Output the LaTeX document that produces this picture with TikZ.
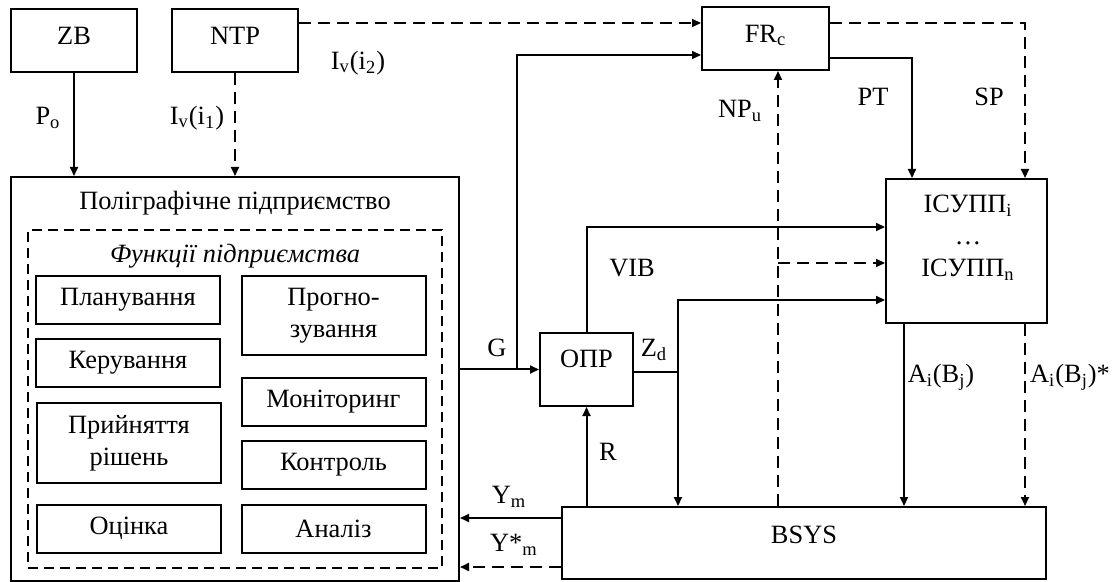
\documentclass[tikz,border=0pt]{standalone}
\usepackage{fontspec}
\setmainfont{Liberation Serif}
\usetikzlibrary{arrows.meta}

\tikzset{
  blk/.style={draw, line width=1pt, inner sep=0pt, align=center},
  fbox/.style={blk, minimum width=92pt, minimum height=24pt},
  lift/.style={text height=9pt, text depth=#1},
  arr/.style={line width=1pt, -{Triangle[length=4.5pt,width=4pt]}},
  darr/.style={arr, dash pattern=on 6pt off 3.5pt},
}

\begin{document}
\begin{tikzpicture}[x=0.5pt,y=-0.5pt,font=\fontsize{13.2}{16}\selectfont]
\useasboundingbox (0,0) rectangle (1113,582);

% sources
\node[blk, lift=5.2pt, minimum width=63pt, minimum height=31.5pt] (ZB) at (74,40.5) {ZB};
\node[blk, lift=5.2pt, minimum width=63pt, minimum height=31.5pt] (NTP) at (235,40.5) {NTP};
\node[blk, lift=5.2pt, minimum width=63.5pt, minimum height=31.5pt] (FRc) at (765.5,38.5) {FR\textsubscript{c}};

% enterprise
\node[blk, minimum width=224pt, minimum height=202pt] (main) at (235,379) {};
\node (title) at (235,203) {Поліграфічне підприємство};
\node[draw, line width=0.75pt, dash pattern=on 5pt off 3pt, minimum width=207pt, minimum height=169pt] (func) at (235,399) {};
\node (ftitle) at (235,256) {\itshape Функції підприємства};

\node[fbox] (plan) at (128,300) {Планування};
\node[fbox] (ker) at (128,363) {Керування};
\node[fbox, minimum height=40pt] (rish) at (129,443) {Прийняття\\рішень};
\node[fbox] (ots) at (129,528.5) {Оцінка};
\node[fbox, minimum height=39.5pt] (prog) at (333.5,315.5) {Прогно-\\зування};
\node[fbox] (mon) at (333.5,402) {Моніторинг};
\node[fbox] (kon) at (333.5,465) {Контроль};
\node[fbox] (an) at (333.5,529) {Аналіз};

% decision maker, systems
\node[blk, lift=11.2pt, minimum width=46.5pt, minimum height=36.5pt] (OPR) at (586.5,369.5) {ОПР};
\node[blk, minimum width=80.5pt, minimum height=72pt] (ICU) at (966.5,251) {};
\node[align=center] (icutxt) at (968,238) {ІСУПП\textsubscript{i}\\…\\ІСУПП\textsubscript{n}};
\node[blk, lift=8.2pt, minimum width=242pt, minimum height=36pt] (BSYS) at (804,543) {BSYS};

% links
\draw[arr] (ZB.south) -- (ZB.south |- main.north);
\draw[darr] (NTP.south) -- (NTP.south |- main.north);
\draw[darr] (NTP.east |- 0,23) -- (FRc.west |- 0,23);
\draw[arr] (main.east |- OPR.west) -- (OPR.west);
\draw[arr] (517,0 |- OPR.west) |- (FRc.west |- 0,55);
\draw[arr] (OPR.north) |- (ICU.west |- 0,227);
\draw[arr] (OPR.east |- 0,372) -| (BSYS.north -| 678,0);
\draw[arr] (678,372) |- (ICU.west |- 0,300);
\draw[arr] (BSYS.north -| OPR.south) -- (OPR.south);
\draw[darr] (BSYS.north -| 778,0) -- (FRc.south -| 778,0);
\draw[darr] (778,263) -- (ICU.west |- 0,263);
\draw[arr] (BSYS.west |- 0,518) -- (main.east |- 0,518);
\draw[darr] (BSYS.west |- 0,567) -- (main.east |- 0,567);
\draw[arr] (FRc.east |- 0,58) -| (ICU.north -| 912,0);
\draw[darr] (FRc.east |- 0,23) -| (ICU.north -| 1025,0);
\draw[arr] (ICU.south -| 904,0) -- (BSYS.north -| 904,0);
\draw[darr] (ICU.south -| 1025,0) -- (BSYS.north -| 1025,0);

% labels
\node (Po) at (48,118) {P\textsubscript{o}};
\node (Iv1) at (197,118) {I\textsubscript{v}(i\textsubscript{1})};
\node (Iv2) at (358,63) {I\textsubscript{v}(i\textsubscript{2})};
\node (NPu) at (740,111) {NP\textsubscript{u}};
\node (PT) at (873,97) {PT};
\node (SP) at (989,97) {SP};
\node (VIB) at (632,268) {VIB};
\node (G) at (497,348) {G};
\node (Zd) at (654,350) {Z\textsubscript{d}};
\node (R) at (608,452) {R};
\node (Ym) at (509,497) {Y\textsubscript{m}};
\node (Ysm) at (514,545) {Y*\textsubscript{m}};
\node (Ai) at (941,377) {A\textsubscript{i}(B\textsubscript{j})};
\node (Ais) at (1070,377) {A\textsubscript{i}(B\textsubscript{j})*};

\end{tikzpicture}
\end{document}
